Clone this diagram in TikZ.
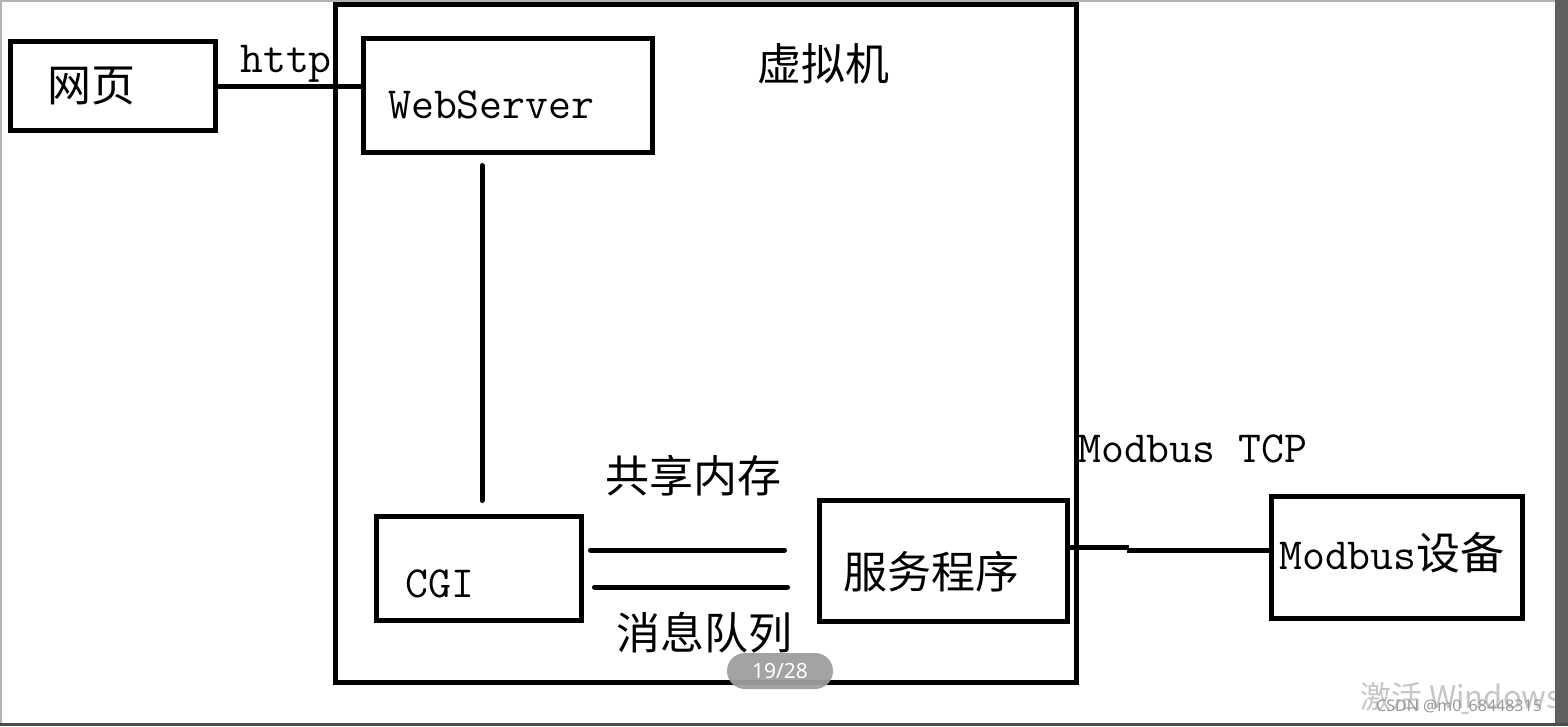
\documentclass[tikz,border=0pt]{standalone}
\usepackage{fontspec}
\newfontfamily\hanfont{Noto Sans CJK SC}
\newfontfamily\uifont{Noto Sans}
\newcommand\latn{\ttfamily\fontsize{44.5}{54}\selectfont}
\newcommand\hantext{\hanfont\fontsize{44}{52}\selectfont}

\begin{document}
\begin{tikzpicture}[x=1pt, y=-1pt,
    box/.style={draw, line width=5pt, inner sep=0pt},
    wire/.style={line width=5pt},
    latin/.style={font=\latn, anchor=base west, inner sep=0pt},
    hanzi/.style={font=\hantext, inner sep=0pt}]
        \useasboundingbox (0,0) rectangle (1568,726);
        \fill[white] (0,0) rectangle (1568,726);

        % we draw the boxes
        \node[box, minimum width=204.5pt, minimum height=89pt] (wp) at (112.75,86) {};
        \node[box, minimum width=741pt, minimum height=678pt] (vm) at (706,343.5) {};
        \node[box, minimum width=289pt, minimum height=114pt] (ws) at (508,95.5) {};
        \node[box, minimum width=205.5pt, minimum height=104pt] (cgi) at (478.75,568.5) {};
        \node[box, minimum width=248pt, minimum height=121pt] (svc) at (943.5,561) {};
        \node[box, minimum width=251pt, minimum height=121.5pt] (dev) at (1396.5,557.25) {};

        % we add the labels
        \node[hanzi] (wplabel) at (91,86) {网页};
        \node[latin] (http) at (240,72) {http};
        \node[latin] (wslabel) at (388,118) {WebServer};
        \node[hanzi] (vmlabel) at (823,64) {虚拟机};
        \node[latin] (cgilabel) at (405,597) {CGI};
        \node[hanzi] (shm) at (693,476) {共享内存};
        \node[hanzi] (mq) at (704,633) {消息队列};
        \node[hanzi] (svclabel) at (931,572) {服务程序};
        \node[latin] (tcp) at (1078,462) {Modbus TCP};
        \node[latin] (devlabel) at (1279,569) {Modbus{\hantext 设备}};

        % we draw the connectors
        \draw[wire] (wp.east) -- (wp.east -| ws.west);
        \coordinate (wsdown) at (482,165.5);
        \coordinate (cgiup) at (482,500.5);
        \draw[wire, line cap=round] (wsdown) -- (cgiup);
        \coordinate (shmA) at (590.5,550);
        \coordinate (shmB) at (784.5,550);
        \coordinate (mqA) at (594.5,587);
        \coordinate (mqB) at (787.5,587);
        \draw[wire, line cap=round] (shmA) -- (shmB);
        \draw[wire, line cap=round] (mqA) -- (mqB);
        \coordinate (stepa) at (1129,547);
        \coordinate (stepb) at (1127,550);
        \draw[wire] (svc.east |- stepa) -- (stepa);
        \draw[wire] (stepb) -- (stepb -| dev.west);

        % we add the viewer overlays
        \node[fill=gray!75, fill opacity=0.95, text opacity=1, text=white, rounded corners=18pt,
            minimum width=106pt, minimum height=36pt, inner sep=0pt,
            font=\uifont\fontsize{21}{24}\selectfont] (page) at (780,671) {19/28};
        \node[text=gray!45, inner sep=0pt, anchor=west,
            font=\hanfont\fontsize{31}{36}\selectfont] (wm) at (1360,697) {激活 Windows};
        \node[text=gray!80, inner sep=0pt, anchor=west,
            font=\uifont\fontsize{16}{18}\selectfont] (csdn) at (1376,707) {CSDN @m0\_68448315};
        \fill[gray!75!black] (1555,0) rectangle (1568,726);
        \fill[gray!60] (0,0) rectangle (1555,2);
        \fill[gray!60] (0,0) rectangle (2,726);
        \fill[gray!60!black] (0,723) rectangle (1568,726);
\end{tikzpicture}
\end{document}
